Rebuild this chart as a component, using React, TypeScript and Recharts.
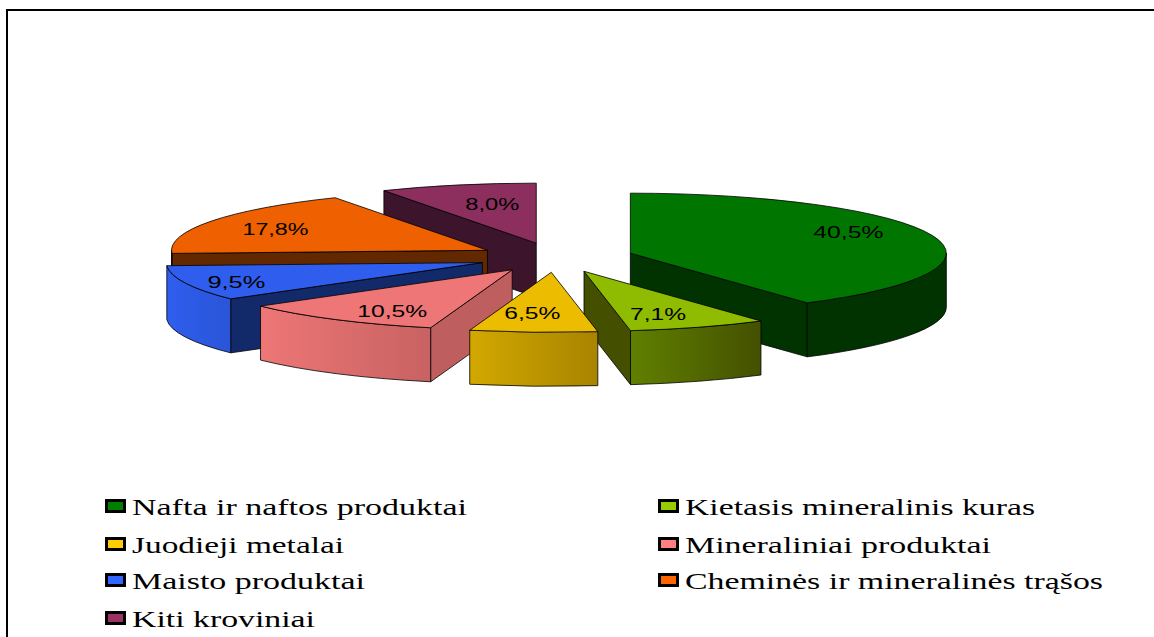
import React from "react";
import { Legend, Pie, PieChart } from "recharts";

const categories = [
  "Nafta ir naftos produktai",
  "Kietasis mineralinis kuras",
  "Juodieji metalai",
  "Mineraliniai produktai",
  "Maisto produktai",
  "Cheminės ir mineralinės trąšos",
  "Kiti kroviniai",
];
const shares = [40.5, 7.1, 6.5, 10.5, 9.5, 17.8, 8.0];
const shareLabels = ["40,5%", "7,1%", "6,5%", "10,5%", "9,5%", "17,8%", "8,0%"];

// styling per slice, same order as categories
const legendColors = ["#008000", "#99cc00", "#ffcc00", "#ff8080", "#3366ff", "#ff6600", "#993366"];
const topColors = ["#007600", "#8fbc00", "#ecbc00", "#ee7676", "#2f5eee", "#ee6000", "#8c2f5e"];
const cutColors = ["#003300", "#445000", "#665200", "#bf5e5e", "#122a6a", "#622800", "#3c142c"];
const arcGradients = [
  ["#003300", "#003300"],
  ["#608000", "#445000"],
  ["#d2a800", "#a88400"],
  ["#ee7676", "#c86262"],
  ["#2f5eee", "#2a55d8"],
  ["#622800", "#622800"],
  ["#3c142c", "#3c142c"],
];
// paint order: back slices first, the yellow one last
const paintOrder = [6, 5, 4, 3, 0, 1, 2];

const CHART_W = 1154;
const CHART_H = 637;
const CX = 555.7;
const CY = 257.5;
const RX = 316;
const RY = 60;
const TILT = RY / RX;
const DEPTH = 54;
const EXPLODE = 0.247;

// label centre relative to the slice tip, with the text stretched like the picture
const labelNudge = [
  [218, -21],
  [74, 43],
  [-19, 41],
  [-120, 41],
  [-246, 19],
  [-212, -21],
  [-44, -39],
];
const labelWidths = [70, 56, 56, 70, 58, 66, 54];

const legendColumns = [105, 658];
const legendRows = [506, 544, 580, 618];
const legendWidths = [335, 350, 212, 306, 233, 418, 183];

const cumulative = (i: number) => shares.slice(0, i).reduce((a, b) => a + b, 0);
const total = shares.reduce((a, b) => a + b, 0);
const angleOf = (pct: number) => 90 - (pct / total) * 360;

const rad = (deg: number) => (deg * Math.PI) / 180;

function Slice3D(props: any) {
  const { cx, cy, outerRadius, startAngle, endAngle, index } = props;
  const mid = (startAngle + endAngle) / 2;
  const ax = cx + EXPLODE * outerRadius * Math.cos(rad(mid));
  const ay = cy - EXPLODE * outerRadius * TILT * Math.sin(rad(mid));
  const ry = outerRadius * TILT;
  const pt = (deg: number) => [ax + outerRadius * Math.cos(rad(deg)), ay - ry * Math.sin(rad(deg))];
  const [sx, sy] = pt(startAngle);
  const [ex, ey] = pt(endAngle);
  const large = Math.abs(startAngle - endAngle) > 180 ? 1 : 0;

  // walls facing the viewer
  const cuts: string[] = [];
  if (sx < ax - 1) cuts.push(`M${ax},${ay}L${sx},${sy}L${sx},${sy + DEPTH}L${ax},${ay + DEPTH}Z`);
  if (ex > ax + 1) cuts.push(`M${ax},${ay}L${ex},${ey}L${ex},${ey + DEPTH}L${ax},${ay + DEPTH}Z`);

  // angles run clockwise here, the front of the rim is everything below the horizontal
  let arcPath = "";
  const a0 = Math.min(startAngle, 0);
  const a1 = Math.max(endAngle, -180);
  if (a0 > a1) {
    const [x0, y0] = pt(a0);
    const [x1, y1] = pt(a1);
    arcPath =
      `M${x0},${y0}A${outerRadius},${ry} 0 0 1 ${x1},${y1}` +
      `L${x1},${y1 + DEPTH}A${outerRadius},${ry} 0 0 0 ${x0},${y0 + DEPTH}Z`;
  }

  const gradId = `rim-${index}`;
  return (
    <g>
      <defs>
        <linearGradient id={gradId} x1="0" x2="1" y1="0" y2="0">
          <stop offset="0" stopColor={arcGradients[index][0]} />
          <stop offset="1" stopColor={arcGradients[index][1]} />
        </linearGradient>
      </defs>
      {cuts.map((d) => (
        <path key={d} d={d} fill={cutColors[index]} stroke="#000" strokeWidth={0.8} />
      ))}
      {arcPath && <path d={arcPath} fill={`url(#${gradId})`} stroke="#000" strokeWidth={0.8} />}
      <path
        d={`M${ax},${ay}L${sx},${sy}A${outerRadius},${ry} 0 ${large} 1 ${ex},${ey}Z`}
        fill={topColors[index]}
        stroke="#000"
        strokeWidth={0.8}
      />
      <text
        x={ax + labelNudge[index][0]}
        y={ay + labelNudge[index][1] + 6}
        textAnchor="middle"
        fontFamily="Liberation Sans"
        fontSize={17}
        fill="#000"
        textLength={labelWidths[index]}
        lengthAdjust="spacingAndGlyphs"
      >
        {shareLabels[index]}
      </text>
    </g>
  );
}

function ChartLegend() {
  return (
    <div style={{ position: "relative", width: CHART_W, height: CHART_H }}>
      {categories.map((name, i) => {
        const col = legendColumns[i % 2];
        const rowY = legendRows[Math.floor(i / 2)];
        return (
          <div key={name}>
            <div
              style={{
                position: "absolute",
                left: col,
                top: rowY - 7,
                width: 15,
                height: 8,
                border: "3px solid #000",
                background: legendColors[i],
              }}
            />
            <svg style={{ position: "absolute", left: col + 27, top: rowY - 19, overflow: "visible" }} width={legendWidths[i]} height={32}>
              <text
                x={0}
                y={28}
                fontFamily="Liberation Serif"
                fontSize={24}
                fill="#000"
                textLength={legendWidths[i]}
                lengthAdjust="spacingAndGlyphs"
              >
                {name}
              </text>
            </svg>
          </div>
        );
      })}
    </div>
  );
}

export default function App() {
  return (
    <div style={{ position: "absolute", left: 0, top: 0, width: CHART_W, height: CHART_H, overflow: "hidden", background: "#fff" }}>
      <div
        style={{
          position: "absolute",
          left: 6,
          top: 9,
          width: CHART_W,
          height: CHART_H,
          borderLeft: "2px solid #000",
          borderTop: "2px solid #000",
          boxSizing: "border-box",
        }}
      />
      <PieChart width={CHART_W} height={CHART_H} margin={{ top: 0, right: 0, bottom: 0, left: 0 }}>
        {paintOrder.map((i) => (
          <Pie
            key={categories[i]}
            data={[{ name: categories[i], value: shares[i] }]}
            dataKey="value"
            nameKey="name"
            cx={CX}
            cy={CY}
            innerRadius={0}
            outerRadius={RX}
            startAngle={angleOf(cumulative(i))}
            endAngle={angleOf(cumulative(i) + shares[i])}
            paddingAngle={0}
            isAnimationActive={false}
            label={false}
            labelLine={false}
            shape={(p: any) => <Slice3D {...p} index={i} />}
          />
        ))}
        <Legend
          content={<ChartLegend />}
          wrapperStyle={{ position: "absolute", left: 0, top: 0, width: CHART_W, height: CHART_H, pointerEvents: "none" }}
        />
      </PieChart>
    </div>
  );
}
